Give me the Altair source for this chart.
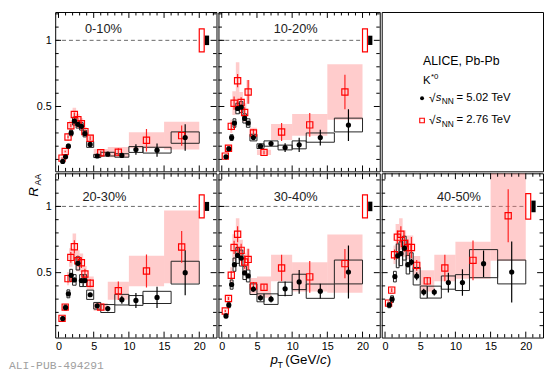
import altair as alt
import pandas as pd

# ---------------- data ----------------
CENTS = ["0-10%", "10-20%", "20-30%", "30-40%", "40-50%"]

# 5.02 TeV bins
PT_LO_502 = [0.4, 0.8, 1.2, 1.6, 2.0, 2.5, 3.0, 3.5, 4.0, 5.0, 6.0, 8.0, 10.0, 12.0, 16.0]
PT_HI_502 = [0.8, 1.2, 1.6, 2.0, 2.5, 3.0, 3.5, 4.0, 5.0, 6.0, 8.0, 10.0, 12.0, 16.0, 20.0]
# 2.76 TeV bins
PT_LO_276 = [0.3, 0.7, 1.2, 1.5, 2.0, 2.5, 3.0, 3.5, 4.0, 5.0, 7.0, 10.0, 15.0]
PT_HI_276 = [0.7, 1.2, 1.5, 2.0, 2.5, 3.0, 3.5, 4.0, 5.0, 7.0, 10.0, 15.0, 20.0]

RAA_502 = [
    [0.085, 0.12, 0.20, 0.30, 0.39, 0.365, 0.35, 0.295, 0.213, 0.126, 0.14, 0.13, 0.175, 0.17, 0.265],
    [0.12, 0.18, 0.265, 0.375, 0.485, 0.495, 0.41, 0.375, 0.265, 0.20, 0.22, 0.19, 0.21, 0.265, 0.36],
    [0.153, 0.237, 0.34, 0.48, 0.445, 0.57, 0.44, 0.44, 0.333, 0.25, 0.229, 0.296, 0.29, 0.313, 0.50],
    [0.173, 0.255, 0.41, 0.56, 0.63, 0.61, 0.498, 0.475, 0.375, 0.31, 0.30, 0.378, 0.43, 0.36, 0.505],
    [0.255, 0.30, 0.47, 0.627, 0.643, 0.685, 0.56, 0.58, 0.473, 0.353, 0.353, 0.425, 0.425, 0.568, 0.505],
]
STAT_502 = [
    [0.004, 0.004, 0.005, 0.006, 0.008, 0.008, 0.008, 0.008, 0.007, 0.006, 0.01, 0.02, 0.04, 0.05, 0.10],
    [0.005, 0.005, 0.006, 0.008, 0.01, 0.01, 0.01, 0.01, 0.01, 0.01, 0.015, 0.033, 0.054, 0.06, 0.12],
    [0.006, 0.006, 0.008, 0.01, 0.01, 0.012, 0.012, 0.012, 0.015, 0.015, 0.02, 0.03, 0.056, 0.08, 0.17],
    [0.006, 0.008, 0.01, 0.012, 0.015, 0.015, 0.015, 0.015, 0.02, 0.02, 0.025, 0.056, 0.09, 0.056, 0.2],
    [0.008, 0.01, 0.012, 0.015, 0.02, 0.02, 0.02, 0.025, 0.03, 0.025, 0.025, 0.075, 0.1, 0.1, 0.23],
]
SYS_502 = [
    [0.007, 0.009, 0.015, 0.022, 0.03, 0.028, 0.028, 0.025, 0.022, 0.012, 0.014, 0.013, 0.022, 0.022, 0.043],
    [0.01, 0.015, 0.022, 0.032, 0.04, 0.042, 0.035, 0.032, 0.025, 0.018, 0.02, 0.018, 0.03, 0.035, 0.052],
    [0.012, 0.02, 0.03, 0.045, 0.04, 0.05, 0.045, 0.045, 0.035, 0.025, 0.03, 0.04, 0.037, 0.046, 0.086],
    [0.015, 0.02, 0.035, 0.05, 0.06, 0.06, 0.05, 0.045, 0.04, 0.03, 0.04, 0.05, 0.058, 0.054, 0.09],
    [0.02, 0.025, 0.04, 0.09, 0.09, 0.09, 0.07, 0.07, 0.066, 0.046, 0.045, 0.05, 0.06, 0.106, 0.09],
]
RAA_276 = [
    [0.11, 0.16, 0.27, 0.355, 0.44, 0.40, 0.37, 0.31, 0.26, 0.15, 0.155, 0.245, 0.28],
    [0.125, 0.185, 0.35, 0.525, 0.695, 0.53, 0.455, 0.61, 0.30, 0.153, 0.307, 0.361, 0.61],
    [0.155, 0.24, 0.455, 0.615, 0.695, 0.59, 0.575, 0.49, 0.42, 0.24, 0.363, 0.512, 0.694],
    [0.21, 0.305, 0.48, 0.69, 0.79, 0.668, 0.58, 0.60, 0.40, 0.39, 0.535, 0.468, 0.568],
    [0.27, 0.368, 0.635, 0.768, 0.79, 0.72, 0.69, 0.69, 0.555, 0.438, 0.535, 0.593, 0.93],
]
STAT_276 = [
    [0.005, 0.006, 0.01, 0.012, 0.015, 0.015, 0.015, 0.015, 0.015, 0.015, 0.03, 0.085, 0.077],
    [0.006, 0.01, 0.03, 0.05, 0.05, 0.04, 0.04, 0.09, 0.03, 0.015, 0.068, 0.09, 0.13],
    [0.006, 0.01, 0.03, 0.04, 0.05, 0.04, 0.04, 0.04, 0.03, 0.02, 0.07, 0.125, 0.12],
    [0.008, 0.012, 0.03, 0.05, 0.06, 0.05, 0.05, 0.08, 0.03, 0.02, 0.1, 0.12, 0.11],
    [0.01, 0.015, 0.04, 0.05, 0.06, 0.06, 0.06, 0.08, 0.04, 0.03, 0.1, 0.15, 0.2],
]
SYS_276 = [
    [0.01, 0.015, 0.03, 0.04, 0.05, 0.045, 0.042, 0.035, 0.03, 0.028, 0.038, 0.06, 0.105],
    [0.012, 0.02, 0.05, 0.09, 0.14, 0.08, 0.07, 0.09, 0.04, 0.02, 0.06, 0.083, 0.21],
    [0.012, 0.02, 0.05, 0.07, 0.1, 0.08, 0.07, 0.06, 0.05, 0.03, 0.068, 0.115, 0.275],
    [0.015, 0.025, 0.06, 0.1, 0.12, 0.08, 0.07, 0.08, 0.06, 0.08, 0.1, 0.11, 0.22],
    [0.02, 0.03, 0.07, 0.1, 0.12, 0.1, 0.09, 0.09, 0.07, 0.08, 0.1, 0.14, 0.34],
]
# normalisation uncertainties (around unity)
NORM_276 = [0.087, 0.087, 0.087, 0.087, 0.096]
NORM_502 = [0.036, 0.035, 0.034, 0.036, 0.044]
NORM_X_276 = [20.0, 20.7]
NORM_X_502 = [20.8, 21.4]

X_MAJOR = [0, 5, 10, 15, 20]
X_MINOR = [1, 2, 3, 4, 6, 7, 8, 9, 11, 12, 13, 14, 16, 17, 18, 19, 21, 22]
Y_MAJOR = [0.5, 1.0]
Y_MINOR = [0.1, 0.2, 0.3, 0.4, 0.6, 0.7, 0.8, 0.9, 1.1, 1.2]

# ---------------- layout ----------------
W = 164
H_TOP, H_BOT = 162, 167
XDOM = [-0.47, 22.45]
YDOM_TOP = [0.01, 1.214]
YDOM_BOT = [0.01, 1.25]
FONT = "Liberation Sans"
RED = "#ff0000"

LAB_POS = [(49, 17), (78.5, 17), (50, 24), (78.5, 24), (78.5, 24)]


def txt(t, x, y, size, italic=False, align="left", baseline="middle", color="black",
        angle=0, font=FONT):
    kw = dict(fontSize=size, font=font, color=color, align=align, baseline=baseline)
    if italic:
        kw["fontStyle"] = "italic"
    if angle:
        kw["angle"] = angle
    return alt.Chart(pd.DataFrame({"t": [t]})).mark_text(**kw).encode(
        x=alt.value(x), y=alt.value(y), text="t:N")


def data_panel(i, H, ydom, show_x, show_y, extra=()):
    xs = alt.Scale(domain=XDOM, nice=False, zero=False)
    ys = alt.Scale(domain=ydom, nice=False, zero=False)
    xax = alt.Axis(values=X_MAJOR, ticks=False, domain=False, grid=False, labelPadding=3,
                   labelFlush=False, labelFontSize=11, labelFont=FONT, labelColor="black",
                   title=None) if show_x else None
    yax = alt.Axis(values=Y_MAJOR, format=".1~f", ticks=False, domain=False, grid=False,
                   labelPadding=4, labelFlush=False, labelFontSize=11, labelFont=FONT,
                   labelColor="black", title=None) if show_y else None

    def X(f):
        return alt.X(f, type="quantitative", scale=xs, axis=xax)

    def Y(f):
        return alt.Y(f, type="quantitative", scale=ys, axis=yax)

    top = ydom[1]
    d5 = pd.DataFrame({"lo": PT_LO_502, "hi": PT_HI_502, "y": RAA_502[i],
                       "stat": STAT_502[i], "sys": SYS_502[i]})
    d2 = pd.DataFrame({"lo": PT_LO_276, "hi": PT_HI_276, "y": RAA_276[i],
                       "stat": STAT_276[i], "sys": SYS_276[i]})
    for d in (d5, d2):
        d["pt"] = (d.lo + d.hi) / 2
        d["slo"] = d.y - d.sys
        d["shi"] = (d.y + d.sys).clip(upper=top)
        d["elo"] = d.y - d.stat
        d["ehi"] = (d.y + d.stat).clip(upper=top)

    unity = pd.DataFrame({"a": [XDOM[0]], "b": [20.0], "y": [1.0]})
    n2 = pd.DataFrame({"a": [NORM_X_276[0]], "b": [NORM_X_276[1]],
                       "lo": [1 - NORM_276[i]], "hi": [1 + NORM_276[i]]})
    n5 = pd.DataFrame({"a": [NORM_X_502[0]], "b": [NORM_X_502[1]],
                       "lo": [1 - NORM_502[i]], "hi": [1 + NORM_502[i]]})

    layers = [
        alt.Chart(unity).mark_rule(color="#666666", strokeDash=[4, 3], strokeWidth=1).encode(
            x=X("a"), x2="b", y=Y("y")),
        alt.Chart(d2).mark_rect(color="#ff8080", opacity=0.4, clip=True).encode(
            x=X("lo"), x2="hi", y=Y("slo"), y2="shi"),
        alt.Chart(d5).mark_rect(filled=False, color="#222222", strokeWidth=1, clip=True).encode(
            x=X("lo"), x2="hi", y=Y("slo"), y2="shi"),
        alt.Chart(d2).mark_rule(color="#ff2222", strokeWidth=1.2, clip=True).encode(
            x=X("pt"), y=Y("elo"), y2="ehi"),
        alt.Chart(d5).mark_rule(color="black", strokeWidth=1.2, clip=True).encode(
            x=X("pt"), y=Y("elo"), y2="ehi"),
        alt.Chart(d2).mark_point(shape="square", filled=False, color=RED, size=40,
                                 strokeWidth=1.2, opacity=1).encode(x=X("pt"), y=Y("y")),
        alt.Chart(d5).mark_circle(color="black", size=28, opacity=1).encode(
            x=X("pt"), y=Y("y")),
        alt.Chart(n2).mark_rect(filled=False, color=RED, strokeWidth=1.2).encode(
            x=X("a"), x2="b", y=Y("lo"), y2="hi"),
        alt.Chart(n5).mark_rect(color="black").encode(
            x=X("a"), x2="b", y=Y("lo"), y2="hi"),
    ]
    # inward tick marks on all four sides
    for vals, L in ((X_MAJOR, 6), (X_MINOR, 3.5)):
        dt = pd.DataFrame({"v": vals})
        layers.append(alt.Chart(dt).mark_rule(color="black", strokeWidth=1).encode(
            x=X("v"), y=alt.value(H), y2=alt.value(H - L)))
        layers.append(alt.Chart(dt).mark_rule(color="black", strokeWidth=1).encode(
            x=X("v"), y=alt.value(0), y2=alt.value(L)))
    for vals, L in ((Y_MAJOR, 6), (Y_MINOR, 3.5)):
        dt = pd.DataFrame({"v": vals})
        layers.append(alt.Chart(dt).mark_rule(color="black", strokeWidth=1).encode(
            y=Y("v"), x=alt.value(0), x2=alt.value(L)))
        layers.append(alt.Chart(dt).mark_rule(color="black", strokeWidth=1).encode(
            y=Y("v"), x=alt.value(W), x2=alt.value(W - L)))
    lx, ly = LAB_POS[i]
    layers.append(txt(CENTS[i], lx, ly, 13, align="center", color="#222222"))
    layers.extend(extra)
    return alt.layer(*layers).properties(width=W, height=H)


# legend / info panel
def legend_panel():
    parts = [
        txt("ALICE, Pb-Pb", 42, 49.5, 12.5),
        txt("K", 42, 70.5, 11.5),
        txt("*0", 50, 66.5, 8),
    ]
    for y, label in ((87.7, "= 5.02 TeV"), (110.3, "= 2.76 TeV")):
        parts += [
            txt("\u221a", 48, y, 12),
            txt("s", 55, y, 11.5, italic=True),
            txt("NN", 61, y + 3.3, 8.5),
            txt(label, 76, y, 11.5),
        ]
    one = pd.DataFrame({"k": [0]})
    parts.append(alt.Chart(one).mark_circle(color="black", size=16, opacity=1).encode(
        x=alt.value(41), y=alt.value(87.7)))
    parts.append(alt.Chart(one).mark_point(shape="square", filled=False, color=RED, size=22,
                                           strokeWidth=1.1, opacity=1).encode(
        x=alt.value(41), y=alt.value(110.3)))
    return alt.layer(*parts).properties(width=W, height=H_TOP)


raa_title = [
    txt("R", -21, 19, 13.5, italic=True, align="center", angle=270),
    txt("AA", -17.5, 6.5, 9, align="center", angle=270),
    txt("ALI-PUB-494291", -47, 196, 11.5, color="#a0a0a0", font="Liberation Mono"),
]
pt_title = [
    txt("p", 53, 194, 13.5, italic=True, baseline="alphabetic"),
    txt("T", 60, 198, 9, baseline="alphabetic"),
    txt("(GeV/", 68, 194, 13.5, baseline="alphabetic"),
    txt("c", 103.3, 194, 13.5, italic=True, baseline="alphabetic"),
    txt(")", 110, 194, 13.5, baseline="alphabetic"),
]

p1 = data_panel(0, H_TOP, YDOM_TOP, False, True)
p2 = data_panel(1, H_TOP, YDOM_TOP, False, False)
p3 = legend_panel()
p4 = data_panel(2, H_BOT, YDOM_BOT, True, True, extra=raa_title)
p5 = data_panel(3, H_BOT, YDOM_BOT, True, False, extra=pt_title)
p6 = data_panel(4, H_BOT, YDOM_BOT, True, False)

chart = alt.concat(p1, p2, p3, p4, p5, p6, columns=3, spacing=0, align="each").properties(
    padding={"left": 0, "top": 0, "right": 0, "bottom": 0}
).configure_view(stroke="black", strokeWidth=1).configure_text(font=FONT)

chart.save("out.html", embed_options={"renderer": "svg", "actions": False})
